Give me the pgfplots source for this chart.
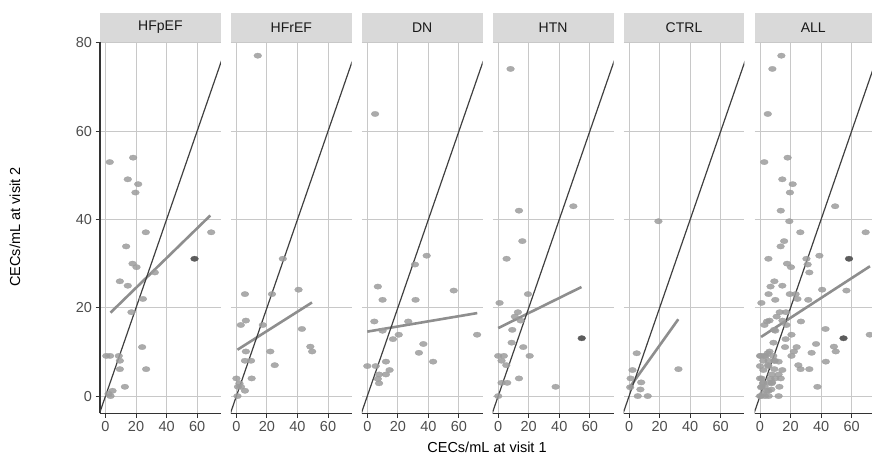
\documentclass[border=0pt]{standalone}
\usepackage{fontspec}
\setmainfont{Liberation Sans}
\usepackage{pgfplots}
\usepackage{pgfplotstable}
\pgfplotsset{compat=1.18}

\definecolor{gridgray}{HTML}{C8C8C8}
\definecolor{stripfill}{HTML}{D9D9D9}
\definecolor{ptgray}{HTML}{9C9C9C}
\definecolor{ptdark}{HTML}{5C5C5C}
\definecolor{idline}{HTML}{404040}
\definecolor{regline}{HTML}{8E8E8E}
\definecolor{axisdark}{HTML}{333333}
\definecolor{ticktext}{HTML}{4D4D4D}

% visit 1, visit 2
\pgfplotstableread{
x y
2.8 53.0
18.1 54.0
14.6 49.1
21.4 48.0
19.6 46.1
26.4 37.1
69.2 37.1
13.5 33.9
17.7 30.0
20.3 29.2
32.3 28.0
9.4 26.0
14.6 25.0
24.5 22.0
17.0 19.0
24.0 11.1
0.5 9.1
3.0 9.1
8.7 9.1
9.4 8.0
9.4 6.1
26.6 6.1
12.7 2.1
4.6 1.2
3.3 0.0
2.0 0.5
}\hfpef
\pgfplotstableread{
x y
14.0 77.1
30.4 31.1
5.6 23.1
23.3 23.1
40.7 24.1
6.2 17.1
2.9 16.1
17.3 16.1
42.9 15.2
48.4 11.2
49.6 10.1
6.2 10.1
22.2 10.1
5.6 8.0
9.6 8.0
25.1 7.0
0.0 4.0
10.0 4.0
1.0 2.1
3.0 2.1
2.0 2.9
5.6 1.2
0.7 0.0
}\hfref
\pgfplotstableread{
x y
5.1 63.9
38.9 31.8
31.2 29.8
6.9 24.8
56.6 23.9
10.0 21.8
31.6 21.8
4.6 16.9
26.8 16.9
10.0 14.8
20.6 13.9
16.8 12.9
71.9 13.9
36.7 11.8
33.8 9.8
43.1 7.8
0.0 6.8
5.5 6.8
12.2 7.8
14.6 5.9
12.2 4.9
7.7 4.9
6.9 3.9
7.7 2.9
}\dn
\pgfplotstableread{
x y
8.1 74.1
13.6 42.0
49.2 43.0
15.8 35.1
5.5 31.1
19.5 23.1
0.9 21.1
12.9 19.0
10.9 18.0
14.7 17.1
9.2 15.0
8.8 12.1
16.4 11.1
0.0 9.1
3.7 9.1
20.6 9.1
2.2 8.0
5.3 7.0
13.6 4.0
2.2 3.0
5.9 3.0
37.6 2.1
0.0 0.0
}\htn
\pgfplotstableread{
x y
19.2 39.6
5.0 9.7
2.2 5.9
32.3 6.1
7.9 3.1
0.7 2.0
7.4 1.5
5.7 0.0
12.2 0.0
1.0 4.0
}\ctrl

\pgfplotsset{
  facet/.style={
    scale only axis, width=120.8pt, height=371.3pt,
    xmin=-3.6, xmax=75.5, ymin=-3.9, ymax=80.2,
    xtick={0,20,40,60}, ytick={0,20,40,60,80},
    grid=major, grid style={gridgray, line width=1pt},
    axis lines*=left,
    axis line style={-, axisdark, line width=1.2pt},
    tick align=outside, major tick length=4.5pt,
    tick style={axisdark, line width=1pt},
    ticklabel style={font=\fontsize{14.5}{14.5}\selectfont, text=ticktext},
    /pgf/number format/assume math mode=true,
  },
  noy/.style={yticklabels={}, y axis line style={draw=none}, ytick style={draw=none}},
  pts/.style={only marks, mark=*, mark size=2.7pt, color=ptgray,
    mark options={xscale=1.45, line width=0.3pt, draw=ptgray, fill=ptgray, opacity=0.85}},
  dpts/.style={only marks, mark=*, mark size=2.7pt, color=ptdark,
    mark options={xscale=1.45, line width=0.3pt, draw=ptdark, fill=ptdark}},
  reg/.style={regline, line width=2.6pt},
  ident/.style={idline, line width=1.2pt},
}

\newcommand\strip[2]{%
  \fill[stripfill] (#1.north west) rectangle ([yshift=29.3pt]#1.north east);
  \node[font=\fontsize{14}{14}\selectfont, text=black!90] at ([yshift=14.7pt]#1.north) {#2};
}

\begin{document}
\begin{tikzpicture}
\begin{axis}[facet, name=p1, at={(100pt,44.7pt)}]
  \addplot[pts] table {\hfpef};
  \addplot[dpts] coordinates {(58.3,31.1)};
  \addplot[reg] coordinates {(3.3,18.9) (68.6,40.9)};
  \addplot[ident] coordinates {(-5,-5) (85,85)};
\end{axis}
\strip{p1}{HFpEF}

\begin{axis}[facet, noy, name=p2, at={(230.9pt,44.7pt)}]
  \addplot[pts] table {\hfref};
  \addplot[reg] coordinates {(0.7,10.5) (49.5,21.2)};
  \addplot[ident] coordinates {(-5,-5) (85,85)};
\end{axis}
\strip{p2}{HFrEF}

\begin{axis}[facet, noy, name=p3, at={(361.8pt,44.7pt)}]
  \addplot[pts] table {\dn};
  \addplot[reg] coordinates {(0,14.6) (72,18.8)};
  \addplot[ident] coordinates {(-5,-5) (85,85)};
\end{axis}
\strip{p3}{DN}

\begin{axis}[facet, noy, name=p4, at={(492.7pt,44.7pt)}]
  \addplot[pts] table {\htn};
  \addplot[dpts] coordinates {(54.7,13.1)};
  \addplot[reg] coordinates {(0,15.4) (54.5,24.7)};
  \addplot[ident] coordinates {(-5,-5) (85,85)};
\end{axis}
\strip{p4}{HTN}

\begin{axis}[facet, noy, name=p5, at={(623.6pt,44.7pt)}]
  \addplot[pts] table {\ctrl};
  \addplot[reg] coordinates {(0,1.8) (32.2,17.4)};
  \addplot[ident] coordinates {(-5,-5) (85,85)};
\end{axis}
\strip{p5}{CTRL}

\begin{axis}[facet, noy, name=p6, at={(754.5pt,44.7pt)}, width=117.5pt, xmax=73.35]
  \addplot[pts] table {\hfpef};
  \addplot[pts] table {\hfref};
  \addplot[pts] table {\dn};
  \addplot[pts] table {\htn};
  \addplot[pts] table {\ctrl};
  \addplot[dpts] coordinates {(58.3,31.1) (54.7,13.1)};
  \addplot[reg] coordinates {(0.7,13.4) (72,29.4)};
  \addplot[ident] coordinates {(-5,-5) (85,85)};
\end{axis}
\strip{p6}{ALL}

\node[font=\fontsize{14.5}{14.5}\selectfont] at (487pt,11pt) {CECs/mL at visit 1};
\node[font=\fontsize{14.5}{14.5}\selectfont, rotate=90] at (15pt,231pt) {CECs/mL at visit 2};

\pgfresetboundingbox
\path[use as bounding box] (0,0) rectangle (872pt,458pt);
\end{tikzpicture}
\end{document}
